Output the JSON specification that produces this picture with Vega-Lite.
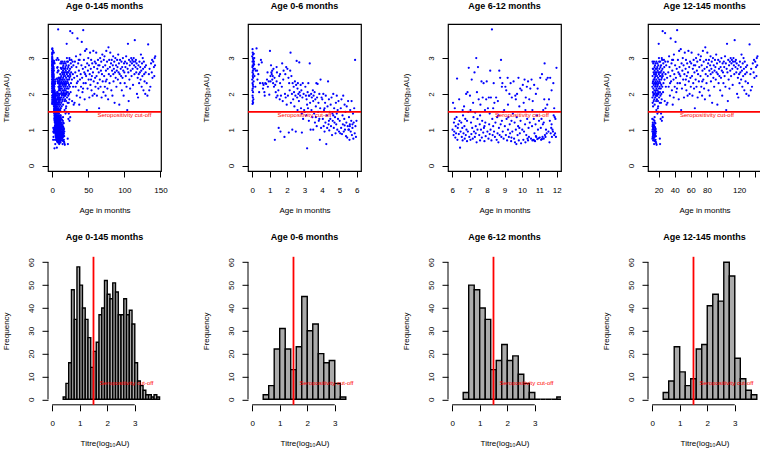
{
"$schema":"https://vega.github.io/schema/vega-lite/v6.json",
"padding":{"left":1,"top":0,"right":0,"bottom":0},
"columns":4,
"spacing":{"row":85.8,"column":87},
"bounds":"flush",
"config":{
 "font":"Liberation Sans",
 "view":{"stroke":null},
 "axis":{"grid":false,"domain":false,"tickColor":"black","tickSize":6,"tickWidth":1,"labelColor":"black","labelFontSize":8,"labelFont":"Liberation Sans","titleFont":"Liberation Sans","titleFontSize":8,"titleFontWeight":"normal","titleColor":"black","labelFlush":false,"labelOverlap":false},
 "axisX":{"labelPadding":9,"titlePadding":12,"titleBaseline":"top"},
 "axisY":{"labelAngle":-90,"labelAlign":"center","labelBaseline":"bottom","labelPadding":7,"titlePadding":16.5,"minExtent":21,"maxExtent":21,"titleBaseline":"bottom"},
 "title":{"font":"Liberation Sans","fontSize":9,"fontWeight":"bold","color":"black","baseline":"alphabetic","offset":13.5,"anchor":"middle"}
},
"datasets":{
"pts":[
{"a":0.02,"t":3.25},{"a":0.03,"t":3.15},{"a":0.05,"t":3.1},{"a":0,"t":3.05},{"a":0.04,"t":3},{"a":0.06,"t":2.95},{"a":0.02,"t":2.9},{"a":0.08,"t":2.85},{"a":0.03,"t":2.8},{"a":0.05,"t":2.78},{"a":0.01,"t":2.75},{"a":0.07,"t":2.7},{"a":0.04,"t":2.65},{"a":0.02,"t":2.6},{"a":0.06,"t":2.55},{"a":0.03,"t":2.5},{"a":0.05,"t":2.45},{"a":0,"t":2.4},{"a":0.08,"t":2.35},{"a":0.02,"t":2.3},{"a":0.04,"t":2.25},{"a":0.06,"t":2.2},{"a":0.03,"t":2.15},{"a":0.01,"t":2.1},{"a":0.05,"t":2.05},{"a":0.02,"t":1.95},{"a":0.04,"t":1.9},{"a":0.07,"t":1.85},{"a":0.03,"t":1.8},{"a":0.05,"t":1.75},{"a":0.02,"t":1.72},{"a":0.1,"t":2.9},{"a":0.12,"t":3},{"a":0.15,"t":2.7},{"a":0.13,"t":2.5},{"a":0.18,"t":2.2},{"a":0.2,"t":2.65},{"a":0.25,"t":3.27},{"a":0.09,"t":3.12},{"a":0.11,"t":2.82},
{"a":0.3,"t":2.4},{"a":0.35,"t":2.55},{"a":0.4,"t":2.05},{"a":0.45,"t":2.3},{"a":0.5,"t":2.95},{"a":0.55,"t":2.88},{"a":0.6,"t":2.3},{"a":0.65,"t":2.25},{"a":0.7,"t":2.05},{"a":0.75,"t":2.3},{"a":0.8,"t":2.28},{"a":0.85,"t":2.4},{"a":0.9,"t":2.2},{"a":0.95,"t":2.35},{"a":0.28,"t":2.65},{"a":0.38,"t":2.82},{"a":0.62,"t":2.15},{"a":0.72,"t":1.95},{"a":0.88,"t":2.6},{"a":0.98,"t":1.98},
{"a":1.02,"t":3.2},{"a":1.05,"t":2.35},{"a":1.08,"t":2.8},{"a":1.1,"t":2.6},{"a":1.12,"t":2.55},{"a":1.15,"t":2.65},{"a":1.18,"t":2.5},{"a":1.2,"t":2.3},{"a":1.22,"t":2.7},{"a":1.25,"t":2.2},{"a":1.28,"t":2.45},{"a":1.3,"t":0.72},{"a":1.32,"t":2.25},{"a":1.35,"t":2.05},{"a":1.38,"t":1.9},{"a":1.4,"t":2.35},{"a":1.42,"t":2.6},{"a":1.45,"t":1.95},{"a":1.5,"t":2.1},{"a":1.52,"t":1.05},{"a":1.55,"t":2.5},{"a":1.58,"t":1.85},{"a":1.6,"t":2.3},{"a":1.62,"t":0.95},{"a":1.65,"t":1.95},{"a":1.7,"t":2.2},{"a":1.72,"t":2.85},{"a":1.75,"t":1.8},{"a":1.78,"t":2.4},{"a":1.8,"t":2.65},{"a":1.85,"t":0.8},{"a":1.88,"t":2},{"a":1.9,"t":2.55},{"a":1.92,"t":1.9},{"a":1.95,"t":2.75},{"a":1.98,"t":1.7},{"a":1.4,"t":2.75},{"a":1.15,"t":2.4},{"a":1.6,"t":2.55},{"a":1.05,"t":2.5},
{"a":2.02,"t":2.7},{"a":2.05,"t":1.95},{"a":2.08,"t":2.45},{"a":2.1,"t":0.92},{"a":2.12,"t":2.3},{"a":2.15,"t":2.1},{"a":2.18,"t":2.65},{"a":2.2,"t":3.15},{"a":2.22,"t":1.75},{"a":2.25,"t":2.5},{"a":2.28,"t":2},{"a":2.3,"t":1},{"a":2.32,"t":2.3},{"a":2.35,"t":1.85},{"a":2.38,"t":2.2},{"a":2.4,"t":2.05},{"a":2.42,"t":1.65},{"a":2.45,"t":2.35},{"a":2.48,"t":1.95},{"a":2.5,"t":0.95},{"a":2.52,"t":2.25},{"a":2.55,"t":2.92},{"a":2.58,"t":1.9},{"a":2.6,"t":2.15},{"a":2.62,"t":2.3},{"a":2.65,"t":2},{"a":2.68,"t":1.8},{"a":2.7,"t":2.88},{"a":2.72,"t":2.05},{"a":2.75,"t":1.95},{"a":2.78,"t":2.25},{"a":2.8,"t":1.6},{"a":2.82,"t":2.1},{"a":2.85,"t":1.45},{"a":2.88,"t":1.9},{"a":2.9,"t":2.3},{"a":2.92,"t":1.3},{"a":2.95,"t":2},{"a":2.98,"t":1.55},{"a":2.85,"t":0.92},{"a":2.6,"t":1.55},
{"a":3.02,"t":1.5},{"a":3.05,"t":2.2},{"a":3.08,"t":1.95},{"a":3.1,"t":1.4},{"a":3.12,"t":1.85},{"a":3.15,"t":0.48},{"a":3.18,"t":2.05},{"a":3.2,"t":1.6},{"a":3.22,"t":2.3},{"a":3.25,"t":1.25},{"a":3.28,"t":1.95},{"a":3.3,"t":2.85},{"a":3.32,"t":1.75},{"a":3.35,"t":1},{"a":3.38,"t":2},{"a":3.4,"t":1.55},{"a":3.42,"t":1.9},{"a":3.45,"t":1.35},{"a":3.48,"t":2.1},{"a":3.5,"t":1.8},{"a":3.52,"t":1.95},{"a":3.55,"t":1.45},{"a":3.58,"t":2.05},{"a":3.6,"t":1.2},{"a":3.62,"t":1.85},{"a":3.65,"t":1.65},{"a":3.68,"t":2.3},{"a":3.7,"t":1.1},{"a":3.72,"t":1.9},{"a":3.75,"t":2.28},{"a":3.78,"t":1.5},{"a":3.8,"t":1.75},{"a":3.82,"t":1.25},{"a":3.85,"t":2},{"a":3.88,"t":0.72},{"a":3.9,"t":1.6},{"a":3.92,"t":2.4},{"a":3.95,"t":1.05},{"a":3.98,"t":1.9},{"a":3.5,"t":1},{"a":3.25,"t":1.95},{"a":3.65,"t":1.35},{"a":3.15,"t":1.7},{"a":3.85,"t":1.3},
{"a":4.02,"t":1.85},{"a":4.05,"t":1.3},{"a":4.08,"t":2},{"a":4.1,"t":1.1},{"a":4.12,"t":1.55},{"a":4.15,"t":0.95},{"a":4.18,"t":1.75},{"a":4.2,"t":1.2},{"a":4.22,"t":1.95},{"a":4.25,"t":0.6},{"a":4.28,"t":1.4},{"a":4.3,"t":1.05},{"a":4.32,"t":1.65},{"a":4.35,"t":2.35},{"a":4.38,"t":1.15},{"a":4.4,"t":1.85},{"a":4.42,"t":0.98},{"a":4.45,"t":1.5},{"a":4.48,"t":1.3},{"a":4.5,"t":1.7},{"a":4.52,"t":1.1},{"a":4.55,"t":1.9},{"a":4.58,"t":0.85},{"a":4.6,"t":1.45},{"a":4.62,"t":1.25},{"a":4.65,"t":2},{"a":4.68,"t":1.05},{"a":4.7,"t":1.6},{"a":4.72,"t":1.2},{"a":4.75,"t":1.35},{"a":4.78,"t":0.9},{"a":4.8,"t":1.75},{"a":4.82,"t":1.15},{"a":4.85,"t":1.95},{"a":4.88,"t":1},{"a":4.9,"t":1.55},{"a":4.92,"t":1.3},{"a":4.95,"t":1.8},{"a":4.98,"t":0.95},{"a":4.4,"t":1.25},{"a":4.15,"t":1.6},{"a":4.65,"t":1.4},{"a":4.85,"t":1.45},
{"a":5.02,"t":1.25},{"a":5.05,"t":0.9},{"a":5.08,"t":1.6},{"a":5.1,"t":1.05},{"a":5.12,"t":1.85},{"a":5.15,"t":0.88},{"a":5.18,"t":1.4},{"a":5.2,"t":1.15},{"a":5.22,"t":1.95},{"a":5.25,"t":0.95},{"a":5.28,"t":1.3},{"a":5.3,"t":1.7},{"a":5.32,"t":1},{"a":5.35,"t":1.5},{"a":5.38,"t":0.82},{"a":5.4,"t":1.2},{"a":5.42,"t":1.65},{"a":5.45,"t":0.78},{"a":5.48,"t":1.1},{"a":5.5,"t":1.8},{"a":5.52,"t":1},{"a":5.55,"t":1.35},{"a":5.58,"t":0.72},{"a":5.6,"t":1.15},{"a":5.62,"t":1.55},{"a":5.65,"t":0.95},{"a":5.68,"t":1.25},{"a":5.7,"t":1.8},{"a":5.72,"t":0.85},{"a":5.75,"t":1.05},{"a":5.78,"t":1.45},{"a":5.8,"t":0.75},{"a":5.82,"t":1.2},{"a":5.85,"t":1.6},{"a":5.88,"t":0.9},{"a":5.9,"t":2.95},{"a":5.92,"t":1.1},{"a":5.95,"t":0.8},{"a":5.98,"t":1.25},{"a":5.6,"t":1.1},{"a":5.3,"t":1.12},{"a":5.75,"t":1.15},{"a":5.55,"t":1},
{"a":6.02,"t":1},{"a":6.05,"t":1.75},{"a":6.08,"t":0.85},{"a":6.1,"t":1.2},{"a":6.12,"t":0.95},{"a":6.15,"t":1.3},{"a":6.18,"t":0.78},{"a":6.2,"t":1.1},{"a":6.22,"t":0.9},{"a":6.25,"t":1.35},{"a":6.28,"t":2.43},{"a":6.3,"t":0.72},{"a":6.32,"t":1.05},{"a":6.35,"t":1.15},{"a":6.38,"t":0.88},{"a":6.4,"t":1.85},{"a":6.42,"t":1.25},{"a":6.45,"t":0.5},{"a":6.48,"t":0.95},{"a":6.15,"t":1.6},
{"a":6.52,"t":1.2},{"a":6.55,"t":0.8},{"a":6.58,"t":1.05},{"a":6.6,"t":0.7},{"a":6.62,"t":1.4},{"a":6.65,"t":0.9},{"a":6.68,"t":1.65},{"a":6.7,"t":1.1},{"a":6.72,"t":0.75},{"a":6.75,"t":1.3},{"a":6.78,"t":0.85},{"a":6.8,"t":2},{"a":6.82,"t":1},{"a":6.85,"t":0.68},{"a":6.88,"t":2.05},{"a":6.9,"t":0.95},{"a":6.92,"t":1.5},{"a":6.95,"t":2.73},{"a":6.98,"t":0.8},{"a":6.6,"t":1.55},{"a":6.85,"t":1.25},
{"a":7.02,"t":1.95},{"a":7.05,"t":0.72},{"a":7.08,"t":1.2},{"a":7.1,"t":0.88},{"a":7.12,"t":2.4},{"a":7.15,"t":1.05},{"a":7.18,"t":0.75},{"a":7.2,"t":1.75},{"a":7.22,"t":1.35},{"a":7.25,"t":0.95},{"a":7.28,"t":2.6},{"a":7.3,"t":0.8},{"a":7.32,"t":1.48},{"a":7.35,"t":1.1},{"a":7.38,"t":3},{"a":7.4,"t":0.65},{"a":7.42,"t":2.05},{"a":7.45,"t":1},{"a":7.48,"t":2.75},{"a":7.05,"t":1.55},{"a":7.35,"t":0.9},{"a":7.45,"t":1.3},
{"a":7.52,"t":1.85},{"a":7.55,"t":0.85},{"a":7.58,"t":1.15},{"a":7.6,"t":0.7},{"a":7.62,"t":1.7},{"a":7.65,"t":1},{"a":7.68,"t":2.35},{"a":7.7,"t":0.78},{"a":7.72,"t":1.25},{"a":7.75,"t":1.9},{"a":7.78,"t":0.92},{"a":7.8,"t":2.3},{"a":7.82,"t":1.05},{"a":7.85,"t":0.68},{"a":7.88,"t":1.55},{"a":7.9,"t":1.2},{"a":7.92,"t":0.82},{"a":7.95,"t":1.85},{"a":7.98,"t":2.35},{"a":7.6,"t":1.4},{"a":7.85,"t":1.1},
{"a":8.02,"t":0.95},{"a":8.05,"t":1.6},{"a":8.08,"t":0.75},{"a":8.1,"t":1.9},{"a":8.12,"t":1.15},{"a":8.15,"t":0.88},{"a":8.18,"t":2.65},{"a":8.2,"t":1},{"a":8.22,"t":1.9},{"a":8.25,"t":0.7},{"a":8.28,"t":3.8},{"a":8.3,"t":1.3},{"a":8.32,"t":0.85},{"a":8.35,"t":1.1},{"a":8.38,"t":2.3},{"a":8.4,"t":0.95},{"a":8.42,"t":1.75},{"a":8.45,"t":0.8},{"a":8.48,"t":1.2},{"a":8.15,"t":1.45},{"a":8.35,"t":1.6},
{"a":8.52,"t":1.9},{"a":8.55,"t":0.72},{"a":8.58,"t":1.35},{"a":8.6,"t":0.9},{"a":8.62,"t":1.8},{"a":8.65,"t":0.65},{"a":8.68,"t":1.05},{"a":8.7,"t":2.65},{"a":8.72,"t":0.85},{"a":8.75,"t":2.45},{"a":8.78,"t":1.15},{"a":8.8,"t":2.95},{"a":8.82,"t":0.8},{"a":8.85,"t":1.25},{"a":8.88,"t":2.3},{"a":8.9,"t":0.95},{"a":8.92,"t":1.5},{"a":8.95,"t":0.75},{"a":8.98,"t":1.55},{"a":8.65,"t":1.4},{"a":8.85,"t":2.2},
{"a":9.02,"t":1.1},{"a":9.05,"t":2.2},{"a":9.08,"t":0.85},{"a":9.1,"t":2.1},{"a":9.12,"t":1.3},{"a":9.15,"t":0.7},{"a":9.18,"t":2.45},{"a":9.2,"t":1},{"a":9.22,"t":1.35},{"a":9.25,"t":0.8},{"a":9.28,"t":2},{"a":9.3,"t":1.15},{"a":9.32,"t":0.9},{"a":9.35,"t":2.3},{"a":9.38,"t":0.68},{"a":9.4,"t":1.25},{"a":9.42,"t":1.9},{"a":9.45,"t":0.95},{"a":9.48,"t":1.45},{"a":9.2,"t":1.7},{"a":9.4,"t":0.78},
{"a":9.52,"t":2.35},{"a":9.55,"t":0.75},{"a":9.58,"t":1.2},{"a":9.6,"t":0.65},{"a":9.62,"t":1.95},{"a":9.65,"t":1},{"a":9.68,"t":0.6},{"a":9.7,"t":1.35},{"a":9.72,"t":2},{"a":9.75,"t":0.85},{"a":9.78,"t":1.1},{"a":9.8,"t":2.45},{"a":9.82,"t":0.7},{"a":9.85,"t":1.65},{"a":9.88,"t":0.9},{"a":9.9,"t":2.15},{"a":9.92,"t":1.25},{"a":9.95,"t":0.62},{"a":9.98,"t":2.1},{"a":9.65,"t":1.85},{"a":9.85,"t":1.05},
{"a":10.02,"t":1},{"a":10.05,"t":2.25},{"a":10.08,"t":0.72},{"a":10.1,"t":1.75},{"a":10.12,"t":0.95},{"a":10.15,"t":2.4},{"a":10.18,"t":1.15},{"a":10.2,"t":0.65},{"a":10.22,"t":1.9},{"a":10.25,"t":0.85},{"a":10.28,"t":2.2},{"a":10.3,"t":1.3},{"a":10.32,"t":0.75},{"a":10.35,"t":2.35},{"a":10.38,"t":1.05},{"a":10.4,"t":0.8},{"a":10.42,"t":1.85},{"a":10.45,"t":1.2},{"a":10.48,"t":2.15},{"a":10.2,"t":1.55},{"a":10.35,"t":0.7},
{"a":10.52,"t":0.75},{"a":10.55,"t":2.4},{"a":10.58,"t":1.1},{"a":10.6,"t":0.7},{"a":10.62,"t":1.8},{"a":10.65,"t":0.72},{"a":10.68,"t":1.3},{"a":10.7,"t":2.25},{"a":10.72,"t":0.9},{"a":10.75,"t":0.68},{"a":10.78,"t":1.15},{"a":10.8,"t":2},{"a":10.82,"t":0.8},{"a":10.85,"t":1.4},{"a":10.88,"t":0.74},{"a":10.9,"t":2.15},{"a":10.92,"t":1},{"a":10.95,"t":0.76},{"a":10.98,"t":1.25},{"a":10.6,"t":1.55},{"a":10.8,"t":0.82},{"a":10.7,"t":0.7},
{"a":11.02,"t":0.78},{"a":11.05,"t":2.45},{"a":11.08,"t":1.05},{"a":11.1,"t":0.72},{"a":11.12,"t":1.3},{"a":11.15,"t":2.55},{"a":11.18,"t":0.8},{"a":11.2,"t":1.15},{"a":11.22,"t":1.55},{"a":11.25,"t":0.75},{"a":11.28,"t":1.85},{"a":11.3,"t":2.85},{"a":11.32,"t":0.85},{"a":11.35,"t":1.6},{"a":11.38,"t":1},{"a":11.4,"t":2.4},{"a":11.42,"t":0.9},{"a":11.45,"t":1.7},{"a":11.48,"t":2.45},{"a":11.25,"t":1.2},{"a":11.35,"t":0.8},{"a":11.15,"t":0.74},
{"a":11.52,"t":0.95},{"a":11.55,"t":1.85},{"a":11.58,"t":0.65},{"a":11.6,"t":1.25},{"a":11.62,"t":2.45},{"a":11.65,"t":0.9},{"a":11.68,"t":1.05},{"a":11.7,"t":2.1},{"a":11.72,"t":0.8},{"a":11.75,"t":1},{"a":11.78,"t":0.95},{"a":11.8,"t":2.3},{"a":11.82,"t":1.4},{"a":11.85,"t":0.85},{"a":11.88,"t":1.35},{"a":11.9,"t":0.9},{"a":11.92,"t":1.3},{"a":11.95,"t":0.8},{"a":11.98,"t":2.73},{"a":11.7,"t":1.15},{"a":11.85,"t":1.6},
{"a":12.2,"t":0.95},{"a":12.4,"t":1.1},{"a":12.6,"t":0.8},{"a":12.8,"t":1.2},{"a":13,"t":0.9},{"a":13.2,"t":0.7},{"a":13.4,"t":1.05},{"a":13.6,"t":0.85},{"a":13.8,"t":1.15},{"a":14,"t":0.75},{"a":14.2,"t":1},{"a":14.4,"t":0.6},{"a":14.6,"t":0.92},{"a":14.8,"t":1.25},{"a":15,"t":0.8},{"a":15.2,"t":1.08},{"a":15.4,"t":0.68},{"a":15.6,"t":0.98},{"a":15.8,"t":0.88},{"a":16,"t":1.18},{"a":16.2,"t":0.72},{"a":16.4,"t":1.02},{"a":16.6,"t":0.82},{"a":16.8,"t":0.95},{"a":17,"t":0.62},{"a":12.3,"t":0.75},{"a":12.5,"t":1},{"a":12.7,"t":1.15},{"a":12.9,"t":0.85},{"a":13.1,"t":1.05},{"a":13.3,"t":0.9},{"a":13.5,"t":0.78},{"a":13.7,"t":1.1},{"a":13.9,"t":0.95},{"a":14.1,"t":0.84},{"a":14.3,"t":1.12},{"a":14.5,"t":0.7},{"a":14.7,"t":1},{"a":14.9,"t":0.88},{"a":15.1,"t":0.93},{"a":15.3,"t":1.2},{"a":15.5,"t":0.82},{"a":15.7,"t":1.05},{"a":16.1,"t":0.9},{"a":16.5,"t":0.66},{"a":17.5,"t":0.58},{"a":21.5,"t":0.75},{"a":21.8,"t":0.6},{"a":12.1,"t":1.3},{"a":13.6,"t":1.28},{"a":15,"t":1.35},
{"a":18.5,"t":1.45},{"a":20.2,"t":1.5},{"a":22.5,"t":1.3},{"a":24,"t":1.25},{"a":25,"t":1.35},{"a":19,"t":1.6},{"a":17.2,"t":1.55},{"a":23,"t":1.45},
{"a":12.2,"t":2.2},{"a":12.3,"t":1.9},{"a":12.5,"t":2.5},{"a":12.6,"t":1.75},{"a":12.8,"t":2.7},{"a":12.9,"t":2.05},{"a":13,"t":2.35},{"a":13.1,"t":1.65},{"a":13.3,"t":2.85},{"a":13.4,"t":2.15},{"a":13.5,"t":1.95},{"a":13.7,"t":2.6},{"a":13.8,"t":2.4},{"a":13.9,"t":1.8},{"a":14,"t":2.25},{"a":14.2,"t":2.9},{"a":14.3,"t":2},{"a":14.4,"t":2.55},{"a":14.6,"t":1.85},{"a":14.7,"t":2.3},{"a":14.8,"t":2.1},{"a":15,"t":2.65},{"a":15.1,"t":1.7},{"a":15.2,"t":2.45},{"a":15.3,"t":2},{"a":15.5,"t":2.8},{"a":15.6,"t":2.2},{"a":15.7,"t":1.9},{"a":15.9,"t":2.5},{"a":16,"t":2.35},{"a":16.1,"t":2.05},{"a":16.3,"t":2.7},{"a":16.4,"t":1.95},{"a":16.5,"t":2.25},{"a":16.7,"t":2.55},{"a":16.8,"t":2.1},{"a":16.9,"t":1.8},{"a":17.1,"t":2.4},{"a":17.2,"t":2.9},{"a":17.3,"t":2.15},{"a":17.5,"t":2.6},{"a":17.6,"t":2},{"a":17.7,"t":2.3},{"a":17.9,"t":1.85},{"a":18,"t":2.5},{"a":18.2,"t":2.2},{"a":18.3,"t":2.75},{"a":18.4,"t":1.95},{"a":18.6,"t":2.35},{"a":18.7,"t":2.1},{"a":18.8,"t":2.65},{"a":19,"t":2.25},{"a":19.2,"t":1.8},{"a":19.3,"t":2.45},{"a":19.5,"t":2.05},{"a":19.6,"t":2.8},{"a":19.8,"t":2.3},{"a":20,"t":2},{"a":20.1,"t":3.4},{"a":20.3,"t":2.55},{"a":20.5,"t":2.15},{"a":20.6,"t":1.9},{"a":20.8,"t":2.4},{"a":21,"t":2.7},{"a":21.2,"t":2.2},{"a":21.4,"t":1.75},{"a":21.5,"t":2.5},{"a":21.7,"t":2.05},{"a":21.9,"t":2.9},{"a":22,"t":2.3},{"a":22.3,"t":1.95},{"a":22.5,"t":2.6},{"a":22.7,"t":2.15},{"a":23,"t":2.8},{"a":23.2,"t":2.4},{"a":23.4,"t":2},{"a":23.6,"t":2.65},{"a":23.8,"t":1.85},{"a":24,"t":2.45},{"a":24.3,"t":2.95},{"a":24.5,"t":2.2},{"a":24.8,"t":2.7},{"a":25,"t":3.75},{"a":25.2,"t":2.5},{"a":25.5,"t":2.05},{"a":25.8,"t":2.85},{"a":26,"t":2.3},{"a":26.3,"t":2.6},{"a":26.6,"t":2.95},{"a":27,"t":2.75},{"a":27.3,"t":2.4},{"a":27.6,"t":1.8},{"a":28,"t":3.7},{"a":28.3,"t":2.9},{"a":28.6,"t":2.55},{"a":29,"t":2.2},{"a":29.4,"t":2.8},{"a":29.8,"t":1.7},{"a":13.2,"t":2.7},{"a":14.5,"t":2.4},{"a":15.8,"t":2.6},{"a":16.6,"t":2.3},{"a":17.8,"t":2.7},{"a":18.9,"t":2},{"a":19.9,"t":2.6},{"a":21.1,"t":2.35},{"a":22.2,"t":2.75},{"a":23.3,"t":2.25},{"a":24.6,"t":2.55},{"a":12.4,"t":2.9},{"a":12.7,"t":2.3},{"a":13.6,"t":2},{"a":14.9,"t":2.75},{"a":16.2,"t":2.85},{"a":17.4,"t":1.95},{"a":18.5,"t":2.85},{"a":19.4,"t":1.65},{"a":20.7,"t":2.9},{"a":21.6,"t":2.6},{"a":22.8,"t":2.5},{"a":23.9,"t":3},{"a":20.4,"t":3},{"a":22.9,"t":1.75},
{"a":30.5,"t":2.45},{"a":31,"t":1.75},{"a":31.5,"t":2.9},{"a":32,"t":2.6},{"a":32.5,"t":2.2},{"a":33,"t":3.05},{"a":33.5,"t":2.75},{"a":34,"t":1.95},{"a":34.5,"t":2.5},{"a":35,"t":3.55},{"a":35.5,"t":2.35},{"a":36,"t":2.85},{"a":36.5,"t":2.1},{"a":37,"t":2.65},{"a":37.5,"t":1.7},{"a":38,"t":2.95},{"a":38.5,"t":2.4},{"a":39,"t":3.1},{"a":39.5,"t":2.55},{"a":40,"t":2.2},{"a":34.2,"t":2.3},{"a":36.8,"t":2.95},{"a":38.7,"t":1.9},
{"a":40.5,"t":2.8},{"a":41,"t":3.45},{"a":41.5,"t":2.45},{"a":42,"t":2.05},{"a":42.5,"t":2.7},{"a":43,"t":3.78},{"a":43.5,"t":2.3},{"a":44,"t":2.95},{"a":44.5,"t":2.6},{"a":45,"t":1.85},{"a":45.5,"t":3.2},{"a":46,"t":2.75},{"a":46.5,"t":2.3},{"a":47,"t":2.5},{"a":47.5,"t":3.25},{"a":48,"t":1.55},{"a":48.5,"t":2.85},{"a":49,"t":2.15},{"a":49.5,"t":2.65},{"a":50,"t":3},{"a":42.8,"t":2.15},{"a":45.8,"t":2.55},
{"a":50.5,"t":2.4},{"a":51,"t":2.8},{"a":51.5,"t":1.9},{"a":52,"t":2.55},{"a":52.5,"t":3.15},{"a":53,"t":2.25},{"a":53.5,"t":2.7},{"a":54,"t":2.95},{"a":54.5,"t":2.1},{"a":55,"t":2.5},{"a":55.5,"t":2.85},{"a":56,"t":1.95},{"a":56.5,"t":2.6},{"a":57,"t":3.2},{"a":57.5,"t":2.35},{"a":58,"t":2.75},{"a":58.5,"t":2},{"a":59,"t":2.9},{"a":59.5,"t":2.45},{"a":60,"t":2.2},{"a":53.8,"t":2.4},
{"a":60.5,"t":2.85},{"a":61,"t":3.15},{"a":61.5,"t":2.5},{"a":62,"t":1.95},{"a":62.5,"t":2.7},{"a":63,"t":2.3},{"a":63.5,"t":2.95},{"a":64,"t":2.15},{"a":64.5,"t":2.6},{"a":65,"t":1.6},{"a":65.5,"t":2.8},{"a":66,"t":2.4},{"a":66.5,"t":3},{"a":67,"t":2.2},{"a":67.5,"t":2.65},{"a":68,"t":2.9},{"a":68.5,"t":1.9},{"a":69,"t":2.55},{"a":69.5,"t":3.1},{"a":70,"t":2.35},{"a":63.8,"t":2.8},
{"a":70.5,"t":2.75},{"a":71,"t":2.05},{"a":71.5,"t":2.95},{"a":72,"t":2.5},{"a":72.5,"t":3.05},{"a":73,"t":2.2},{"a":73.5,"t":2.8},{"a":74,"t":1.95},{"a":74.5,"t":2.65},{"a":75,"t":3.2},{"a":75.5,"t":2.4},{"a":76,"t":2.9},{"a":76.5,"t":2.15},{"a":77,"t":2.7},{"a":77.5,"t":1.85},{"a":78,"t":3.3},{"a":78.5,"t":2.55},{"a":79,"t":2.95},{"a":79.5,"t":2.3},{"a":80,"t":2.75},{"a":74.2,"t":2.35},
{"a":80.5,"t":3.15},{"a":81,"t":2.5},{"a":81.5,"t":2.85},{"a":82,"t":2.1},{"a":82.5,"t":2.95},{"a":83,"t":2.65},{"a":83.5,"t":1.95},{"a":84,"t":2.8},{"a":84.5,"t":3.05},{"a":85,"t":2.35},{"a":85.5,"t":2.7},{"a":86,"t":2.9},{"a":86.5,"t":1.75},{"a":87,"t":2.6},{"a":87.5,"t":3},{"a":88,"t":2.45},{"a":88.5,"t":2.8},{"a":89,"t":2.2},{"a":89.5,"t":2.65},{"a":90,"t":2.95},{"a":84.7,"t":2.55},
{"a":90.5,"t":2.75},{"a":91,"t":2.4},{"a":91.5,"t":3.1},{"a":92,"t":2.6},{"a":92.5,"t":2.85},{"a":93,"t":1.7},{"a":93.5,"t":2.55},{"a":94,"t":2.95},{"a":94.5,"t":2.3},{"a":95,"t":2.7},{"a":95.5,"t":2.5},{"a":96,"t":2.9},{"a":96.5,"t":2.1},{"a":97,"t":2.75},{"a":97.5,"t":2.45},{"a":98,"t":3},{"a":98.5,"t":2.65},{"a":99,"t":1.95},{"a":99.5,"t":2.85},{"a":100,"t":2.6},
{"a":100.5,"t":2.3},{"a":101,"t":2.9},{"a":101.5,"t":2.75},{"a":102,"t":2.5},{"a":102.5,"t":3.05},{"a":103,"t":2.2},{"a":103.5,"t":2.85},{"a":104,"t":1.55},{"a":104.5,"t":2.7},{"a":105,"t":3.4},{"a":105.5,"t":2.6},{"a":106,"t":1.8},{"a":106.5,"t":2.95},{"a":107,"t":2.4},{"a":107.5,"t":2.8},{"a":108,"t":2.15},{"a":108.5,"t":2.9},{"a":109,"t":2.65},{"a":109.5,"t":3},{"a":110,"t":2.5},
{"a":110.5,"t":2.85},{"a":111,"t":2.95},{"a":111.5,"t":2.7},{"a":112,"t":2.25},{"a":112.5,"t":2.9},{"a":113,"t":3},{"a":113.5,"t":2.8},{"a":114,"t":2.55},{"a":114.5,"t":3.5},{"a":115,"t":2.9},{"a":115.5,"t":2.75},{"a":116,"t":2.95},{"a":116.5,"t":2.6},{"a":117,"t":2.85},{"a":117.5,"t":2},{"a":118,"t":2.7},{"a":118.5,"t":2.45},{"a":119,"t":1.9},{"a":119.5,"t":2.8},{"a":120,"t":2.55},
{"a":120.5,"t":2.3},{"a":121,"t":2.9},{"a":121.5,"t":2.6},{"a":122,"t":2.75},{"a":122.5,"t":2.4},{"a":123,"t":3.1},{"a":123.5,"t":2.65},{"a":124,"t":2.2},{"a":124.5,"t":2.85},{"a":125,"t":2.5},{"a":125.5,"t":3},{"a":126,"t":2.7},{"a":126.5,"t":2.1},{"a":127,"t":2.9},{"a":127.5,"t":2.55},{"a":128,"t":2.35},{"a":128.5,"t":2.75},{"a":129,"t":2},{"a":129.5,"t":2.6},{"a":130,"t":2.8},
{"a":131,"t":2.3},{"a":132,"t":1.95},{"a":133,"t":3.38},{"a":134,"t":2.55},{"a":135,"t":2.7},{"a":136,"t":2.2},{"a":137,"t":2.85},{"a":138,"t":2.6},{"a":139,"t":2.45},{"a":140,"t":2.9},{"a":141,"t":2.75},{"a":141.5,"t":2.5},{"a":142,"t":3},{"a":142.5,"t":2.8},{"a":142.8,"t":3.05},{"a":134.5,"t":2.1},{"a":138.5,"t":2.95}
],
"hist":[
{"p":"all","b0":0.4,"b1":0.5,"n":1},{"p":"all","b0":0.5,"b1":0.6,"n":7},{"p":"all","b0":0.6,"b1":0.7,"n":16},{"p":"all","b0":0.7,"b1":0.8,"n":48},{"p":"all","b0":0.8,"b1":0.9,"n":35},{"p":"all","b0":0.9,"b1":1.0,"n":58},{"p":"all","b0":1.0,"b1":1.1,"n":50},{"p":"all","b0":1.1,"b1":1.2,"n":40},{"p":"all","b0":1.2,"b1":1.3,"n":35},{"p":"all","b0":1.3,"b1":1.4,"n":27},{"p":"all","b0":1.4,"b1":1.5,"n":14},{"p":"all","b0":1.5,"b1":1.6,"n":21},{"p":"all","b0":1.6,"b1":1.7,"n":25},{"p":"all","b0":1.7,"b1":1.8,"n":37},{"p":"all","b0":1.8,"b1":1.9,"n":40},{"p":"all","b0":1.9,"b1":2.0,"n":52},{"p":"all","b0":2.0,"b1":2.1,"n":46},{"p":"all","b0":2.1,"b1":2.2,"n":44},{"p":"all","b0":2.2,"b1":2.3,"n":51},{"p":"all","b0":2.3,"b1":2.4,"n":47},{"p":"all","b0":2.4,"b1":2.5,"n":37},{"p":"all","b0":2.5,"b1":2.6,"n":37},{"p":"all","b0":2.6,"b1":2.7,"n":44},{"p":"all","b0":2.7,"b1":2.8,"n":37},{"p":"all","b0":2.8,"b1":2.9,"n":39},{"p":"all","b0":2.9,"b1":3.0,"n":33},{"p":"all","b0":3.0,"b1":3.1,"n":16},{"p":"all","b0":3.1,"b1":3.2,"n":8},{"p":"all","b0":3.2,"b1":3.3,"n":6},{"p":"all","b0":3.3,"b1":3.4,"n":4},{"p":"all","b0":3.4,"b1":3.5,"n":2},{"p":"all","b0":3.5,"b1":3.6,"n":2},{"p":"all","b0":3.6,"b1":3.7,"n":1},{"p":"all","b0":3.7,"b1":3.8,"n":2},{"p":"all","b0":3.8,"b1":3.9,"n":1},
{"p":"0-6","b0":0.4,"b1":0.6,"n":2},{"p":"0-6","b0":0.6,"b1":0.8,"n":6},{"p":"0-6","b0":0.8,"b1":1.0,"n":22},{"p":"0-6","b0":1.0,"b1":1.2,"n":31},{"p":"0-6","b0":1.2,"b1":1.4,"n":22},{"p":"0-6","b0":1.4,"b1":1.6,"n":13},{"p":"0-6","b0":1.6,"b1":1.8,"n":23},{"p":"0-6","b0":1.8,"b1":2.0,"n":45},{"p":"0-6","b0":2.0,"b1":2.2,"n":30},{"p":"0-6","b0":2.2,"b1":2.4,"n":33},{"p":"0-6","b0":2.4,"b1":2.6,"n":20},{"p":"0-6","b0":2.6,"b1":2.8,"n":16},{"p":"0-6","b0":2.8,"b1":3.0,"n":17},{"p":"0-6","b0":3.0,"b1":3.2,"n":7},{"p":"0-6","b0":3.2,"b1":3.4,"n":1},
{"p":"6-12","b0":0.4,"b1":0.6,"n":3},{"p":"6-12","b0":0.6,"b1":0.8,"n":50},{"p":"6-12","b0":0.8,"b1":1.0,"n":48},{"p":"6-12","b0":1.0,"b1":1.2,"n":40},{"p":"6-12","b0":1.2,"b1":1.4,"n":35},{"p":"6-12","b0":1.4,"b1":1.6,"n":13},{"p":"6-12","b0":1.6,"b1":1.8,"n":17},{"p":"6-12","b0":1.8,"b1":2.0,"n":24},{"p":"6-12","b0":2.0,"b1":2.2,"n":17},{"p":"6-12","b0":2.2,"b1":2.4,"n":19},{"p":"6-12","b0":2.4,"b1":2.6,"n":11},{"p":"6-12","b0":2.6,"b1":2.8,"n":7},{"p":"6-12","b0":2.8,"b1":3.0,"n":3},{"p":"6-12","b0":3.0,"b1":3.2,"n":0},{"p":"6-12","b0":3.2,"b1":3.4,"n":0},{"p":"6-12","b0":3.4,"b1":3.6,"n":0},{"p":"6-12","b0":3.6,"b1":3.8,"n":0},{"p":"6-12","b0":3.8,"b1":4.0,"n":1},
{"p":"12-145","b0":0.4,"b1":0.6,"n":3},{"p":"12-145","b0":0.6,"b1":0.8,"n":8},{"p":"12-145","b0":0.8,"b1":1.0,"n":23},{"p":"12-145","b0":1.0,"b1":1.2,"n":12},{"p":"12-145","b0":1.2,"b1":1.4,"n":6},{"p":"12-145","b0":1.4,"b1":1.6,"n":9},{"p":"12-145","b0":1.6,"b1":1.8,"n":22},{"p":"12-145","b0":1.8,"b1":2.0,"n":24},{"p":"12-145","b0":2.0,"b1":2.2,"n":41},{"p":"12-145","b0":2.2,"b1":2.4,"n":46},{"p":"12-145","b0":2.4,"b1":2.6,"n":43},{"p":"12-145","b0":2.6,"b1":2.8,"n":60},{"p":"12-145","b0":2.8,"b1":3.0,"n":54},{"p":"12-145","b0":3.0,"b1":3.2,"n":18},{"p":"12-145","b0":3.2,"b1":3.4,"n":9},{"p":"12-145","b0":3.4,"b1":3.6,"n":4},{"p":"12-145","b0":3.6,"b1":3.8,"n":2}
]
},
"concat":[
{"width":113,"height":147,"view":{"stroke":"black","strokeWidth":1.2},"title":{"text":"Age 0-145 months"},
 "layer":[
  {"data":{"name":"pts"},"mark":{"type":"circle","size":5,"color":"#0000FF","opacity":1},
   "encoding":{"x":{"field":"a","type":"quantitative","scale":{"domain":[-5.8,150.8],"nice":false,"zero":false},"axis":{"values":[0,50,100,150],"format":"d","tickCount":20,"labelOverlap":false,"labelFlush":false},"title":"Age in months"},
   "y":{"field":"t","type":"quantitative","scale":{"domain":[-0.152,3.952],"nice":false,"zero":false},"axis":{"values":[0,1,2,3],"format":"d","tickCount":20,"labelOverlap":false,"labelFlush":false},"title":"Titre(log\u2081\u2080AU)"}}},
  {"data":{"values":[{}]},"mark":{"type":"rule","color":"#FF0000","strokeWidth":1.8},"encoding":{"y":{"datum":1.5}}},
  {"data":{"values":[{}]},"mark":{"type":"text","color":"#FF0000","fontSize":6},"encoding":{"x":{"datum":100},"y":{"datum":1.4},"text":{"value":"Seropositivity cut-off"}}}
 ]},
{"width":113,"height":147,"view":{"stroke":"black","strokeWidth":1.2},"title":{"text":"Age 0-6 months"},
 "layer":[
  {"data":{"name":"pts"},"transform":[{"filter":"datum.a<=6"}],"mark":{"type":"circle","size":5,"color":"#0000FF","opacity":1},
   "encoding":{"x":{"field":"a","type":"quantitative","scale":{"domain":[-0.24,6.24],"nice":false,"zero":false},"axis":{"values":[0,1,2,3,4,5,6],"format":"d","tickCount":20,"labelOverlap":false,"labelFlush":false},"title":"Age in months"},
   "y":{"field":"t","type":"quantitative","scale":{"domain":[-0.152,3.952],"nice":false,"zero":false},"axis":{"values":[0,1,2,3],"format":"d","tickCount":20,"labelOverlap":false,"labelFlush":false},"title":"Titre(log\u2081\u2080AU)"}}},
  {"data":{"values":[{}]},"mark":{"type":"rule","color":"#FF0000","strokeWidth":1.8},"encoding":{"y":{"datum":1.5}}},
  {"data":{"values":[{}]},"mark":{"type":"text","color":"#FF0000","fontSize":6},"encoding":{"x":{"datum":3},"y":{"datum":1.4},"text":{"value":"Seropositivity cut-off"}}}
 ]},
{"width":113,"height":147,"view":{"stroke":"black","strokeWidth":1.2},"title":{"text":"Age 6-12 months"},
 "layer":[
  {"data":{"name":"pts"},"transform":[{"filter":"datum.a>6 && datum.a<=12"}],"mark":{"type":"circle","size":5,"color":"#0000FF","opacity":1},
   "encoding":{"x":{"field":"a","type":"quantitative","scale":{"domain":[5.76,12.24],"nice":false,"zero":false},"axis":{"values":[6,7,8,9,10,11,12],"format":"d","tickCount":20,"labelOverlap":false,"labelFlush":false},"title":"Age in months"},
   "y":{"field":"t","type":"quantitative","scale":{"domain":[-0.152,3.952],"nice":false,"zero":false},"axis":{"values":[0,1,2,3],"format":"d","tickCount":20,"labelOverlap":false,"labelFlush":false},"title":"Titre(log\u2081\u2080AU)"}}},
  {"data":{"values":[{}]},"mark":{"type":"rule","color":"#FF0000","strokeWidth":1.8},"encoding":{"y":{"datum":1.5}}},
  {"data":{"values":[{}]},"mark":{"type":"text","color":"#FF0000","fontSize":6},"encoding":{"x":{"datum":10},"y":{"datum":1.4},"text":{"value":"Seropositivity cut-off"}}}
 ]},
{"width":113,"height":147,"view":{"stroke":"black","strokeWidth":1.2},"title":{"text":"Age 12-145 months"},
 "layer":[
  {"data":{"name":"pts"},"transform":[{"filter":"datum.a>12"}],"mark":{"type":"circle","size":5,"color":"#0000FF","opacity":1},
   "encoding":{"x":{"field":"a","type":"quantitative","scale":{"domain":[6.8,147.2],"nice":false,"zero":false},"axis":{"values":[20,40,60,80,100,120,140],"format":"d","tickCount":20,"labelOverlap":false,"labelFlush":false,"labelExpr":"datum.value==100||datum.value==140?'':datum.label"},"title":"Age in months"},
   "y":{"field":"t","type":"quantitative","scale":{"domain":[-0.152,3.952],"nice":false,"zero":false},"axis":{"values":[0,1,2,3],"format":"d","tickCount":20,"labelOverlap":false,"labelFlush":false},"title":"Titre(log\u2081\u2080AU)"}}},
  {"data":{"values":[{}]},"mark":{"type":"rule","color":"#FF0000","strokeWidth":1.8},"encoding":{"y":{"datum":1.5}}},
  {"data":{"values":[{}]},"mark":{"type":"text","color":"#FF0000","fontSize":6},"encoding":{"x":{"datum":80},"y":{"datum":1.4},"text":{"value":"Seropositivity cut-off"}}}
 ]},
{"width":113,"height":148,"title":{"text":"Age 0-145 months","offset":14},
 "layer":[
  {"data":{"name":"hist"},"transform":[{"filter":"datum.p=='all'"}],"mark":{"type":"rect","fill":"#ABABAB","stroke":"black","strokeWidth":1.4,"clip":true},
   "encoding":{"x":{"field":"b0","type":"quantitative","scale":{"domain":[-0.152,3.952],"nice":false,"zero":false},"axis":{"values":[0,1,2,3],"format":"d","tickCount":20,"labelOverlap":false,"labelFlush":false},"title":"Titre(log\u2081\u2080AU)"},"x2":{"field":"b1"},
   "y":{"field":"n","type":"quantitative","scale":{"domain":[-2.4,62.4],"nice":false,"zero":false},"axis":{"values":[0,10,20,30,40,50,60],"format":"d","tickCount":20,"labelOverlap":false,"labelFlush":false},"title":"Frequency"},"y2":{"datum":0}}},
  {"data":{"values":[{}]},"mark":{"type":"rule","color":"black","strokeWidth":1},"encoding":{"x":{"datum":0},"x2":{"datum":3},"y":{"datum":-2.4}}},
  {"data":{"values":[{}]},"mark":{"type":"rule","color":"black","strokeWidth":1},"encoding":{"x":{"datum":-0.152},"y":{"datum":0},"y2":{"datum":60}}},
  {"data":{"values":[{}]},"mark":{"type":"rule","color":"#FF0000","strokeWidth":1.8},"encoding":{"x":{"datum":1.5}}},
  {"data":{"values":[{}]},"mark":{"type":"text","color":"#FF0000","fontSize":6},"encoding":{"x":{"datum":2.7},"y":{"datum":7},"text":{"value":"Seropositivity cut-off"}}}
 ]},
{"width":113,"height":148,"title":{"text":"Age 0-6 months","offset":14},
 "layer":[
  {"data":{"name":"hist"},"transform":[{"filter":"datum.p=='0-6'"}],"mark":{"type":"rect","fill":"#ABABAB","stroke":"black","strokeWidth":1.4,"clip":true},
   "encoding":{"x":{"field":"b0","type":"quantitative","scale":{"domain":[-0.152,3.952],"nice":false,"zero":false},"axis":{"values":[0,1,2,3],"format":"d","tickCount":20,"labelOverlap":false,"labelFlush":false},"title":"Titre(log\u2081\u2080AU)"},"x2":{"field":"b1"},
   "y":{"field":"n","type":"quantitative","scale":{"domain":[-2.4,62.4],"nice":false,"zero":false},"axis":{"values":[0,10,20,30,40,50,60],"format":"d","tickCount":20,"labelOverlap":false,"labelFlush":false},"title":"Frequency"},"y2":{"datum":0}}},
  {"data":{"values":[{}]},"mark":{"type":"rule","color":"black","strokeWidth":1},"encoding":{"x":{"datum":0},"x2":{"datum":3},"y":{"datum":-2.4}}},
  {"data":{"values":[{}]},"mark":{"type":"rule","color":"black","strokeWidth":1},"encoding":{"x":{"datum":-0.152},"y":{"datum":0},"y2":{"datum":60}}},
  {"data":{"values":[{}]},"mark":{"type":"rule","color":"#FF0000","strokeWidth":1.8},"encoding":{"x":{"datum":1.5}}},
  {"data":{"values":[{}]},"mark":{"type":"text","color":"#FF0000","fontSize":6},"encoding":{"x":{"datum":2.7},"y":{"datum":7},"text":{"value":"Seropositivity cut-off"}}}
 ]},
{"width":113,"height":148,"title":{"text":"Age 6-12 months","offset":14},
 "layer":[
  {"data":{"name":"hist"},"transform":[{"filter":"datum.p=='6-12'"}],"mark":{"type":"rect","fill":"#ABABAB","stroke":"black","strokeWidth":1.4,"clip":true},
   "encoding":{"x":{"field":"b0","type":"quantitative","scale":{"domain":[-0.152,3.952],"nice":false,"zero":false},"axis":{"values":[0,1,2,3],"format":"d","tickCount":20,"labelOverlap":false,"labelFlush":false},"title":"Titre(log\u2081\u2080AU)"},"x2":{"field":"b1"},
   "y":{"field":"n","type":"quantitative","scale":{"domain":[-2.4,62.4],"nice":false,"zero":false},"axis":{"values":[0,10,20,30,40,50,60],"format":"d","tickCount":20,"labelOverlap":false,"labelFlush":false},"title":"Frequency"},"y2":{"datum":0}}},
  {"data":{"values":[{}]},"mark":{"type":"rule","color":"black","strokeWidth":1},"encoding":{"x":{"datum":0},"x2":{"datum":3},"y":{"datum":-2.4}}},
  {"data":{"values":[{}]},"mark":{"type":"rule","color":"black","strokeWidth":1},"encoding":{"x":{"datum":-0.152},"y":{"datum":0},"y2":{"datum":60}}},
  {"data":{"values":[{}]},"mark":{"type":"rule","color":"#FF0000","strokeWidth":1.8},"encoding":{"x":{"datum":1.5}}},
  {"data":{"values":[{}]},"mark":{"type":"text","color":"#FF0000","fontSize":6},"encoding":{"x":{"datum":2.7},"y":{"datum":7},"text":{"value":"Seropositivity cut-off"}}}
 ]},
{"width":113,"height":148,"title":{"text":"Age 12-145 months","offset":14},
 "layer":[
  {"data":{"name":"hist"},"transform":[{"filter":"datum.p=='12-145'"}],"mark":{"type":"rect","fill":"#ABABAB","stroke":"black","strokeWidth":1.4,"clip":true},
   "encoding":{"x":{"field":"b0","type":"quantitative","scale":{"domain":[-0.152,3.952],"nice":false,"zero":false},"axis":{"values":[0,1,2,3],"format":"d","tickCount":20,"labelOverlap":false,"labelFlush":false},"title":"Titre(log\u2081\u2080AU)"},"x2":{"field":"b1"},
   "y":{"field":"n","type":"quantitative","scale":{"domain":[-2.4,62.4],"nice":false,"zero":false},"axis":{"values":[0,10,20,30,40,50,60],"format":"d","tickCount":20,"labelOverlap":false,"labelFlush":false},"title":"Frequency"},"y2":{"datum":0}}},
  {"data":{"values":[{}]},"mark":{"type":"rule","color":"black","strokeWidth":1},"encoding":{"x":{"datum":0},"x2":{"datum":3},"y":{"datum":-2.4}}},
  {"data":{"values":[{}]},"mark":{"type":"rule","color":"black","strokeWidth":1},"encoding":{"x":{"datum":-0.152},"y":{"datum":0},"y2":{"datum":60}}},
  {"data":{"values":[{}]},"mark":{"type":"rule","color":"#FF0000","strokeWidth":1.8},"encoding":{"x":{"datum":1.5}}},
  {"data":{"values":[{}]},"mark":{"type":"text","color":"#FF0000","fontSize":6},"encoding":{"x":{"datum":2.7},"y":{"datum":7},"text":{"value":"Seropositivity cut-off"}}}
 ]}
]
}
